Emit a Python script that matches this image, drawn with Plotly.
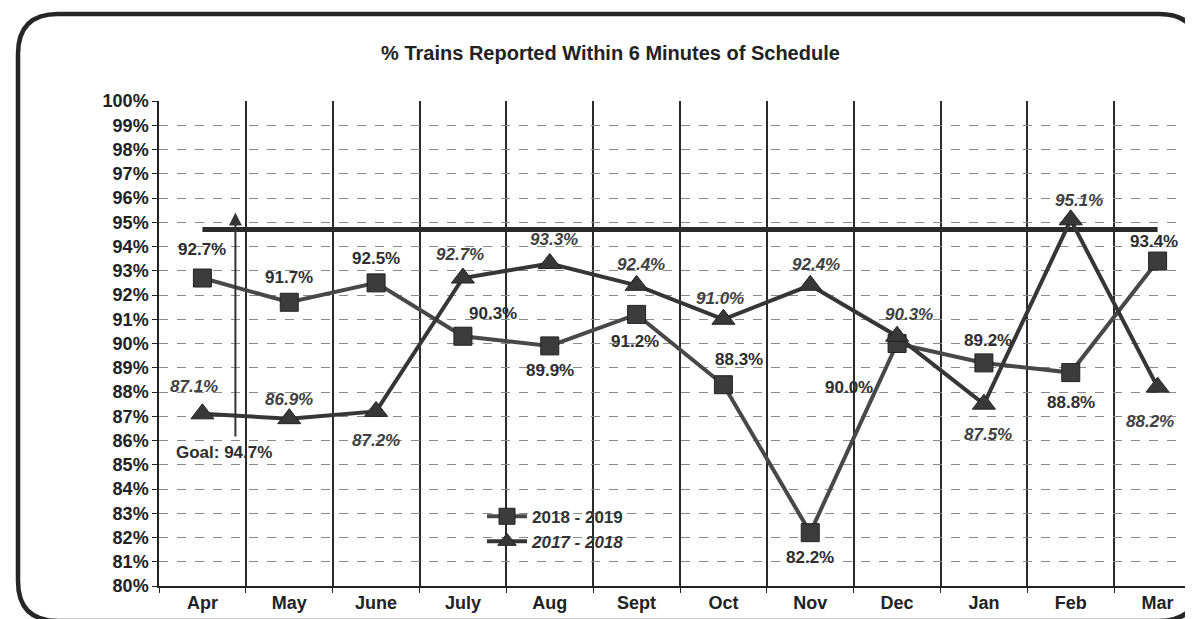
import plotly.graph_objects as go

# chart data
months = ["Apr", "May", "June", "July", "Aug", "Sept", "Oct", "Nov", "Dec", "Jan", "Feb", "Mar"]
fy1819 = [92.7, 91.7, 92.5, 90.3, 89.9, 91.2, 88.3, 82.2, 90.0, 89.2, 88.8, 93.4]
fy1718 = [87.1, 86.9, 87.2, 92.7, 93.3, 92.4, 91.0, 92.4, 90.3, 87.5, 95.1, 88.2]
goal = 94.7
y_ticks = list(range(80, 101))

# label offsets in pixels (dx, dy), dy positive = up
off_1819 = [(0, 29), (0, 25), (0, 24), (30, 23), (0, -25), (-2, -27), (16, 25), (0, -25),
            (-48, -44), (4, 22), (0, -30), (-4, 20)]
off_1718 = [(-8, 27), (0, 19), (0, -29), (-3, 24), (4, 24), (4, 21), (-3, 21), (6, 21),
            (12, 22), (4, -30), (8, 19), (-8, -34)]

FONT = "Arial, Liberation Sans, sans-serif"
LBL = 17

fig = go.Figure()

# goal line
fig.add_trace(go.Scatter(x=months, y=[goal] * len(months), mode="lines",
                         line=dict(color="#2a2a2a", width=5), showlegend=False, hoverinfo="skip"))

fig.add_trace(go.Scatter(
    x=months, y=fy1819, mode="lines+markers", name="2018 - 2019",
    line=dict(color="#484848", width=4),
    marker=dict(symbol="square", size=18, color="#3c3c3c", line=dict(color="#222", width=1)),
))
fig.add_trace(go.Scatter(
    x=months, y=fy1718, mode="lines+markers", name="<i>2017 - 2018</i>",
    line=dict(color="#363636", width=4),
    marker=dict(symbol="triangle-up", size=20, color="#383838", line=dict(color="#222", width=1)),
))

annotations = []
for i, v in enumerate(fy1819):
    dx, dy = off_1819[i]
    annotations.append(dict(x=months[i], y=v, text=f"<b>{v:.1f}%</b>", showarrow=False,
                            xshift=dx, yshift=dy, font=dict(family=FONT, size=LBL, color="#2e2e2e")))
for i, v in enumerate(fy1718):
    dx, dy = off_1718[i]
    annotations.append(dict(x=months[i], y=v, text=f"<b><i>{v:.1f}%</i></b>", showarrow=False,
                            xshift=dx, yshift=dy, font=dict(family=FONT, size=LBL, color="#404040")))

# goal arrow and label
annotations.append(dict(x=0.38, y=95.4, ax=0.38, ay=86.1, xref="x", yref="y", axref="x", ayref="y",
                        text="", showarrow=True, arrowhead=2, arrowsize=1.3, arrowwidth=2,
                        arrowcolor="#333"))
annotations.append(dict(x=0.25, y=85.5, text=f"<b>Goal: {goal:.1f}%</b>", showarrow=False,
                        font=dict(family=FONT, size=LBL, color="#2e2e2e")))

# rounded outer frame (paper coords)
L, R, T, B = 151, 1193, 93, 578
def px(x):
    return (x - L) / (R - L)
def py(y):
    return (B - y) / (B - T)
x0, x1, yb, yt = px(10), px(1191), py(613), py(6)
rx, ry = 40 / (R - L), 40 / (B - T)
frame = (f"M {x0+rx},{yt} L {x1-rx},{yt} Q {x1},{yt} {x1},{yt-ry} L {x1},{yb+ry} "
         f"Q {x1},{yb} {x1-rx},{yb} L {x0+rx},{yb} Q {x0},{yb} {x0},{yb+ry} "
         f"L {x0},{yt-ry} Q {x0},{yt} {x0+rx},{yt} Z")

fig.update_layout(
    width=1193, height=619,
    margin=dict(l=L, r=1193 - R, t=T, b=619 - B),
    paper_bgcolor="white", plot_bgcolor="white",
    font=dict(family=FONT, color="#222"),
    title=dict(text="<b>% Trains Reported Within 6 Minutes of Schedule</b>", x=0.505, y=0.927,
               xanchor="center", yanchor="middle", font=dict(size=20, family=FONT, color="#222")),
    xaxis=dict(type="category", tickson="boundaries", showgrid=True, gridcolor="#2a2a2a", gridwidth=1.6,
               showline=True, linecolor="#222", linewidth=1.5, ticks="outside", ticklen=5,
               tickcolor="#222", tickfont=dict(size=18, family=FONT, weight="bold", color="#222"),
               range=[-0.5, 11.5]),
    yaxis=dict(range=[80, 100], tickvals=y_ticks, ticktext=[f"{t}%" for t in y_ticks],
               showgrid=True, gridcolor="#8a8a8a", gridwidth=1, griddash="dash",
               showline=True, linecolor="#222", linewidth=1.5, ticks="outside", ticklen=5,
               tickcolor="#222", zeroline=False,
               tickfont=dict(size=18, family=FONT, weight="bold", color="#222")),
    legend=dict(x=0.31, y=0.18, xanchor="left", yanchor="top", bgcolor="rgba(0,0,0,0)",
                font=dict(size=17, family=FONT, weight="bold", color="#333"), tracegroupgap=0,
                itemwidth=40),
    annotations=annotations,
    shapes=[dict(type="path", xref="paper", yref="paper", path=frame,
                 line=dict(color="#262626", width=4.5))],
)

fig.write_html("out.html")
